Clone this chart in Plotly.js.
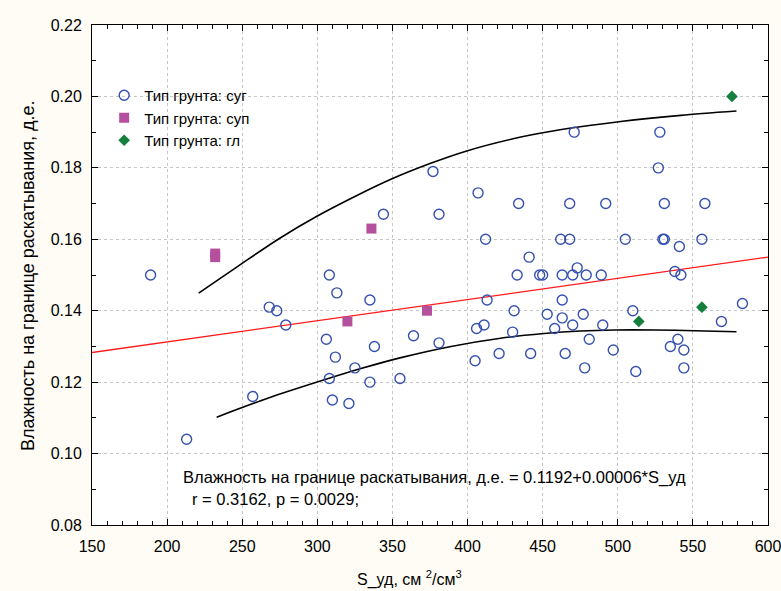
<!DOCTYPE html>
<html>
<head>
<meta charset="utf-8">
<script src="https://cdn.plot.ly/plotly-3.0.1.min.js"></script>
<style>
html,body{margin:0;padding:0;background:#fffcf5;}
#chart{width:781px;height:591px;}
</style>
</head>
<body>
<div id="chart"></div>
<script>
// Тип грунта: суг
const sugX = [189,213,257,268,273,279,306,308,308,310,313,312,321,325,335,335,338,344,355,364,377,381,381,405,406,407,411,412,413,421,430,431,433,434,441,442,448,450,453,458,462,463,463,463,465,468,468,470,470,471,473,477,478,479,481,489,490,492,497,505,510,512,527,528,530,531,531,535,538,540,541,542,544,544,556,558,569,583];
const sugY = [0.150,0.104,0.116,0.141,0.140,0.136,0.132,0.150,0.121,0.115,0.145,0.127,0.114,0.124,0.143,0.120,0.130,0.167,0.121,0.133,0.179,0.167,0.131,0.126,0.135,0.173,0.136,0.160,0.143,0.128,0.134,0.140,0.150,0.170,0.155,0.128,0.150,0.150,0.139,0.135,0.160,0.150,0.143,0.138,0.128,0.170,0.160,0.150,0.136,0.190,0.152,0.139,0.124,0.150,0.132,0.150,0.136,0.170,0.129,0.160,0.140,0.123,0.180,0.190,0.160,0.160,0.170,0.130,0.151,0.132,0.158,0.150,0.129,0.124,0.160,0.170,0.137,0.142];
// Тип грунта: суп
const supX = [232,232,320,336,373];
const supY = [0.156,0.155,0.137,0.163,0.140];
// Тип грунта: гл
const glX = [514,556,576];
const glY = [0.137,0.141,0.200];
// regression line
const regX = [150,600];
const regY = [0.1283,0.1550];
// confidence band curves
const upX = [221,249,275,300,327,349,375,400,431,451,475,502,542,579];
const upY = [0.1449,0.1530,0.1603,0.1665,0.1724,0.1768,0.1812,0.1848,0.1882,0.1899,0.1915,0.1930,0.1947,0.1959];
const loX = [233,267,302,329,355,389,422,451,475,498,525,551,579];
const loY = [0.1102,0.1155,0.1203,0.1238,0.1268,0.1300,0.1323,0.1336,0.1343,0.1346,0.1346,0.1344,0.1341];

const legendNames = ['Тип грунта: суг','Тип грунта: суп','Тип грунта: гл'];
const eqText = 'Влажность на границе раскатывания, д.е. = 0.1192+0.00006*S_уд';
const rText = 'r = 0.3162, p = 0.0029;';
const xTitle = 'S_уд, см <sup>2</sup>/см<sup>3</sup>';
const yTitle = 'Влажность на границе раскатывания, д.е.';

const FONT = 'Liberation Sans, Arial, sans-serif';

const traces = [
  {x: regX, y: regY, mode:'lines', line:{color:'#ff1a1a', width:1.3}, showlegend:false, hoverinfo:'skip'},
  {x: upX, y: upY, mode:'lines', line:{color:'#000000', width:1.6, shape:'spline', smoothing:0.8}, showlegend:false, hoverinfo:'skip'},
  {x: loX, y: loY, mode:'lines', line:{color:'#000000', width:1.6, shape:'spline', smoothing:0.8}, showlegend:false, hoverinfo:'skip'},
  {x: sugX, y: sugY, mode:'markers', name: legendNames[0],
   marker:{symbol:'circle-open', size:10, color:'#3550b0', line:{width:1.4, color:'#3550b0'}}},
  {x: supX, y: supY, mode:'markers', name: legendNames[1],
   marker:{symbol:'square', size:10, color:'#b5509e'}},
  {x: glX, y: glY, mode:'markers', name: legendNames[2],
   marker:{symbol:'diamond', size:9, color:'#15803d'}}
];

const layout = {
  width:781, height:591,
  paper_bgcolor:'#fffcf5',
  plot_bgcolor:'#ffffff',
  margin:{l:92, r:13, t:25, b:66},
  font:{family:FONT, size:16, color:'#000'},
  showlegend:true,
  legend:{x:0.018, y:0.892, xanchor:'left', yanchor:'top', bgcolor:'rgba(0,0,0,0)',
          font:{family:FONT, size:15, color:'#000'}, tracegroupgap:0, itemwidth:30},
  xaxis:{
    range:[150,600], dtick:50, tick0:150,
    showline:true, linecolor:'#000', linewidth:1, mirror:'ticks',
    ticks:'inside', ticklen:6, tickcolor:'#000',
    minor:{dtick:10, ticks:'inside', ticklen:4, tickcolor:'#000', showgrid:false},
    showgrid:true, gridcolor:'#c4c4c4', griddash:'dot', gridwidth:1,
    zeroline:false, ticklabelstandoff:7, ticklabeloverflow:'allow',
    tickfont:{family:FONT, size:16}
  },
  yaxis:{
    range:[0.08,0.22], dtick:0.02, tick0:0.08, tickformat:'.2f',
    showline:true, linecolor:'#000', linewidth:1, mirror:'ticks',
    ticks:'inside', ticklen:6, tickcolor:'#000',
    minor:{dtick:0.01, ticks:'inside', ticklen:4, tickcolor:'#000', showgrid:false},
    showgrid:true, gridcolor:'#c4c4c4', griddash:'dot', gridwidth:1,
    zeroline:false, ticklabelstandoff:6, ticklabeloverflow:'allow',
    tickfont:{family:FONT, size:16}
  },
  annotations:[
    {x:209, y:0.0932, xref:'x', yref:'y', text:eqText, showarrow:false, xanchor:'left', yanchor:'middle', font:{family:FONT, size:16.5}},
    {x:215, y:0.0873, xref:'x', yref:'y', text:rText, showarrow:false, xanchor:'left', yanchor:'middle', font:{family:FONT, size:16.5}},
    {x:0.470, y:-0.106, xref:'paper', yref:'paper', text:xTitle, showarrow:false, xanchor:'center', yanchor:'middle', font:{family:FONT, size:16}},
    {x:-0.0947, y:0.5, xref:'paper', yref:'paper', text:yTitle, showarrow:false, textangle:-90, xanchor:'center', yanchor:'middle', font:{family:FONT, size:18}}
  ]
};

Plotly.newPlot('chart', traces, layout, {displayModeBar:false, staticPlot:true});
</script>
</body>
</html>
